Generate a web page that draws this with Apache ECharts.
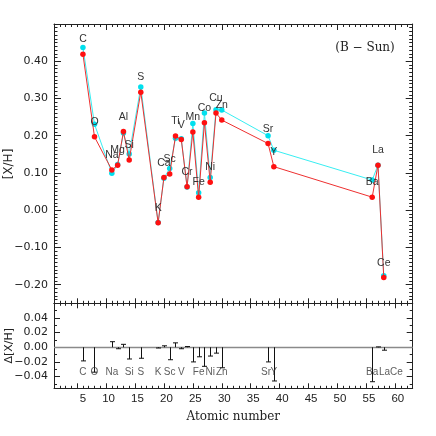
<!DOCTYPE html>
<html><head><meta charset="utf-8">
<script src="https://cdn.jsdelivr.net/npm/echarts@6/dist/echarts.min.js"></script>
<style>html,body{margin:0;padding:0;background:#fff}#c{width:436px;height:436px}</style>
</head><body><div id="c"></div>
<script>
// ---- data ----
const elements      = ['C','O','Na','Mg','Al','Si','S','K','Ca','Sc','Ti','V','Cr','Mn','Fe','Co','Ni','Cu','Zn','Sr','Y','Ba','La','Ce'];
const atomicNumbers = [6,8,11,12,13,14,16,19,20,21,22,23,24,25,26,27,28,29,30,38,39,56,57,58];
const xhRed  = [0.419,0.197,0.108,0.121,0.211,0.135,0.317,-0.034,0.088,0.097,0.199,0.190,0.063,0.210,0.035,0.235,0.075,0.261,0.242,0.179,0.117,0.035,0.121,-0.181];
const xhCyan = [0.437,0.231,0.099,0.123,0.207,0.151,0.331,-0.033,0.086,0.112,0.193,0.192,0.062,0.233,0.047,0.261,0.088,0.270,0.269,0.200,0.161,0.081,0.121,-0.176];
const deltaXH = [-0.0186,-0.034,0.0076,-0.002,0.004,-0.016,-0.015,-0.001,0.002,-0.017,0.006,-0.002,0.001,-0.020,-0.013,-0.026,-0.012,-0.008,-0.028,-0.020,-0.046,-0.047,0.0005,-0.004];
const deltaLabelNames = ['C','O','Na','Si','S','K','Sc','V','Fe','Ni','Zn','Sr','Y','Ba','La','Ce'];
const topYTicks  = [-0.2,-0.1,0,0.1,0.2,0.3,0.4];
const botYTicks  = [-0.04,-0.02,0,0.02,0.04];
const botYMinor  = [-0.05,-0.03,-0.01,0.01,0.03,0.05];
const xLabelTicks = [5,10,15,20,25,30,35,40,45,50,55,60];
const xTopMajor   = [10,20,30,40,50,60];

// ---- styling ----
const FRAME = '#222';
const TXT = '#222';
const labelShift = {Sr:-2, La:6.5, Ce:12.6};
const DELTA_LABEL_ROW = -0.0347;

const chart = echarts.init(document.getElementById('c'), null, {renderer:'canvas'});

function fmtY(v){ const a = Math.abs(v).toFixed(2); return (v < -1e-9 ? '\u2212' : '') + a; }

function xAx(grid, pos, o){
  return {
    type:'value', gridIndex:grid, position:pos, min:1, max:63,
    interval: o.interval,
    axisLine:{show:!!o.line, onZero:false, lineStyle:{color:FRAME, width:1}},
    axisTick:{show:true, inside:true, length:o.len, customValues:o.cv, lineStyle:{color:FRAME, width:1}},
    axisLabel: o.labels ? {show:true, customValues:o.cv, margin:5, color:TXT, fontFamily:'Liberation Sans', fontSize:11.5,
                padding:[0,0,0,5], formatter:v => (v<10 ? '\u2007' : '') + v}
              : {show:false},
    splitLine:{show:false}
  };
}
function yAx(grid, pos, o){
  return {
    type:'value', gridIndex:grid, position:pos, min:o.min, max:o.max,
    interval:o.interval,
    axisLine:{show:!!o.line, onZero:false, lineStyle:{color:FRAME, width:1}},
    axisTick:{show:true, inside:true, length:o.len, customValues:o.cv, lineStyle:{color:FRAME, width:1}},
    axisLabel: o.labels ? {show:true, customValues:o.cv, margin:6, color:TXT, fontFamily:'DejaVu Sans', fontSize:11, formatter:fmtY}
              : {show:false},
    splitLine:{show:false}
  };
}

const TMIN=-0.25, TMAX=0.50, BMIN=-0.056, BMAX=0.06;

const option = {
  animation:false,
  backgroundColor:'#fff',
  grid:[
    {left:54, top:24, width:358.7, height:279.3},
    {left:54, top:303.3, width:358.7, height:85}
  ],
  xAxis:[
    xAx(0,'bottom',{line:true, len:5, cv:xLabelTicks}),
    xAx(0,'bottom',{len:2.5, interval:1}),
    xAx(0,'top',{line:true, len:6, cv:xTopMajor}),
    xAx(0,'top',{len:3, interval:1}),
    xAx(1,'bottom',{line:true, len:5, cv:xLabelTicks, labels:true}),
    xAx(1,'bottom',{len:2.5, interval:1}),
    xAx(1,'top',{line:true, len:5, cv:xLabelTicks}),
    xAx(1,'top',{len:2.5, interval:1})
  ],
  yAxis:[
    yAx(0,'left',{min:TMIN,max:TMAX,line:true,len:7,cv:topYTicks,labels:true}),
    yAx(0,'left',{min:TMIN,max:TMAX,len:3.5,interval:0.01}),
    yAx(0,'right',{min:TMIN,max:TMAX,line:true,len:7,cv:topYTicks}),
    yAx(0,'right',{min:TMIN,max:TMAX,len:3.5,interval:0.01}),
    yAx(1,'left',{min:BMIN,max:BMAX,line:true,len:6,cv:botYTicks,labels:true}),
    yAx(1,'left',{min:BMIN,max:BMAX,len:3,cv:botYMinor}),
    yAx(1,'right',{min:BMIN,max:BMAX,line:true,len:6,cv:botYTicks}),
    yAx(1,'right',{min:BMIN,max:BMAX,len:3,cv:botYMinor})
  ],
  graphic:[
    {type:'text', x:9, y:164, rotation:Math.PI/2, style:{text:'[X/H]', fill:TXT, font:'12px "DejaVu Sans"', align:'center', verticalAlign:'middle'}},
    {type:'text', x:9, y:345.7, rotation:Math.PI/2, style:{text:'\u0394[X/H]', fill:TXT, font:'11px "DejaVu Sans"', align:'center', verticalAlign:'middle'}},
    {type:'text', x:233.3, y:416.7, style:{text:'Atomic number', fill:TXT, font:'12px "DejaVu Serif"', align:'center', verticalAlign:'middle'}},
    {type:'text', x:365, y:48, style:{text:'(B \u2212 Sun)', fill:TXT, font:'12px "DejaVu Serif"', align:'center', verticalAlign:'middle'}}
  ],
  series:[
    {
      type:'line', xAxisIndex:0, yAxisIndex:0, z:2,
      data: atomicNumbers.map((z,i)=>[z, xhCyan[i]]),
      symbol:'circle', symbolSize:5.5,
      lineStyle:{color:'#38eef2', width:1},
      itemStyle:{color:'#00e0ee'}
    },
    {
      type:'line', xAxisIndex:0, yAxisIndex:0, z:3,
      data: atomicNumbers.map((z,i)=>({value:[z, xhRed[i]], name:elements[i]})),
      symbol:'circle', symbolSize:5.5,
      lineStyle:{color:'#ee3030', width:1},
      itemStyle:{color:'#ff1010'},
      label:{show:true, position:'inside', offset:[0,-14.7], formatter:'{b}', color:'#333', fontSize:10.5, fontFamily:'Liberation Sans'}
    },
    {
      type:'custom', xAxisIndex:4, yAxisIndex:4, z:3,
      data: atomicNumbers.map((z,i)=>[z, deltaXH[i]]),
      renderItem:function(params, api){
        const z = api.value(0), d = api.value(1);
        const p0 = api.coord([z,0]), p1 = api.coord([z,d]);
        const x = Math.round(p0[0]) + 0.5;
        return {type:'group', children:[
          {type:'line', shape:{x1:x, y1:p0[1], x2:x, y2:p1[1]}, style:{stroke:'#111', lineWidth:1}},
          {type:'line', shape:{x1:x-2.5, y1:p1[1], x2:x+2.5, y2:p1[1]}, style:{stroke:'#111', lineWidth:1}}
        ]};
      },
      markLine:{silent:true, symbol:'none', label:{show:false}, z:1,
        lineStyle:{color:'#8a8a8a', type:'solid', width:1.3},
        data:[{yAxis:0}]}
    },
    {
      type:'scatter', xAxisIndex:4, yAxisIndex:4, z:4,
      symbolSize:1, itemStyle:{color:'rgba(0,0,0,0)'},
      data: deltaLabelNames.map(n => {
        const i = elements.indexOf(n);
        return {value:[atomicNumbers[i], DELTA_LABEL_ROW], name:n,
                label:{offset:[labelShift[n]||0, 0]}};
      }),
      label:{show:true, position:'inside', formatter:'{b}', color:'#333', fontSize:10, fontFamily:'Liberation Sans'}
    }
  ]
};
chart.setOption(option);
</script></body></html>
